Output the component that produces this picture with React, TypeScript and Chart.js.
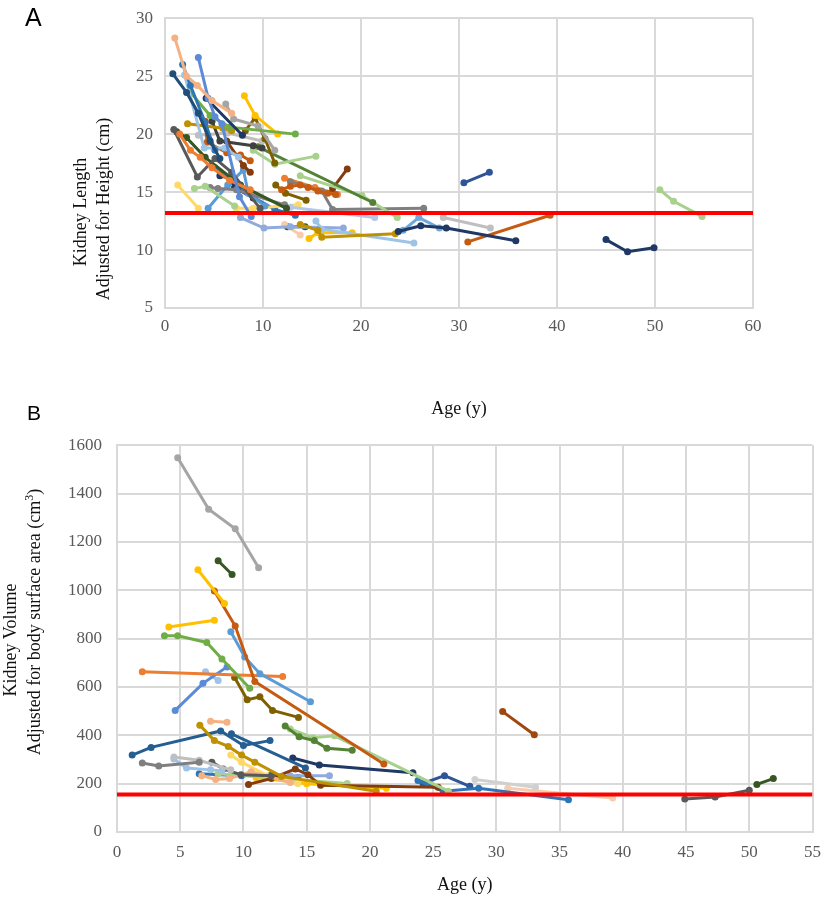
import React, { useEffect, useRef } from 'react';
import { Chart, registerables } from 'chart.js';
Chart.register(...registerables);

// ---------- Panel A: kidney length adjusted for height ----------
const lengthAges: number[][] = [
  [1.0, 2.2, 3.3, 4.8, 6.8],
  [3.4, 4.4, 5.1, 5.8, 7.6, 8.8],
  [0.8, 2.2, 3.4, 4.6, 5.6],
  [1.8, 2.6, 4.1, 5.1],
  [2.0, 4.0, 6.1, 7.5],
  [4.2, 7.9],
  [2.6, 4.6, 6.6, 13.3],
  [8.1, 9.2, 11.5],
  [6.2, 7.0, 9.5, 11.2],
  [2.3, 5.9, 6.8],
  [8.2, 9.2, 10.2, 11.2],
  [1.5, 2.6, 3.6, 4.8, 6.6, 8.7],
  [4.1, 4.3, 6.3, 7.7, 8.7],
  [0.9, 3.3, 5.1, 6.8, 9.7],
  [1.2, 2.2, 4.1, 7.7, 12.4],
  [4.8, 5.6, 9.0, 9.9],
  [3.4, 6.4, 9.9],
  [6.3, 8.0, 8.7],
  [9.0, 11.2, 15.4],
  [9.5, 21.2],
  [13.8, 20.1, 23.7],
  [17.1, 18.6],
  [11.9, 12.8, 13.8, 14.6, 15.6, 16.6, 17.4],
  [12.8, 16.0, 17.1, 26.4],
  [12.2, 15.3, 17.6],
  [28.4, 33.2],
  [23.8, 26.1, 28.7, 35.8],
  [24.3, 25.9, 28.0],
  [30.9, 39.3],
  [30.5, 33.1],
  [45.0, 47.2, 49.9],
  [50.5, 51.9, 54.8],
  [13.8, 15.6, 16.0, 23.5],
  [15.4, 16.0, 25.4],
  [14.7, 15.6, 19.1],
  [7.7, 10.1, 12.8, 18.2],
  [12.8, 21.4],
  [11.3, 12.3, 14.4],
  [1.3, 3.4],
  [3.0, 4.1, 7.1],
  [4.6, 5.4, 7.3, 12.2],
  [4.4, 6.4, 8.0, 8.5, 10.2],
  [5.6, 6.6, 7.1, 9.0],
  [7.3, 9.0, 13.6],
  [12.2, 13.8],
  [12.5, 14.3],
  [5.1, 7.7, 11.2, 13.3],
];
const lengthValues: number[][] = [
  [28.3, 25.0, 24.2, 22.9, 21.8],
  [26.6, 23.1, 21.5, 20.9, 14.6, 12.9],
  [25.2, 23.6, 21.8, 19.4, 17.9],
  [26.0, 24.2, 21.0, 18.6],
  [25.1, 18.8, 18.8, 18.0],
  [23.1, 19.9],
  [23.6, 21.6, 20.6, 20.0],
  [23.3, 21.6, 20.0],
  [22.6, 21.3, 20.7, 18.6],
  [20.9, 20.5, 20.3],
  [20.3, 21.4, 19.6, 17.5],
  [20.0, 18.6, 18.0, 17.1, 16.0, 15.2],
  [21.1, 19.3, 18.4, 18.2, 17.7],
  [20.4, 16.3, 17.9, 16.7, 13.6],
  [20.2, 19.7, 18.0, 15.6, 13.6],
  [21.1, 19.4, 19.0, 18.8],
  [19.9, 20.1, 19.4],
  [19.4, 17.3, 16.7],
  [18.6, 17.4, 18.1],
  [18.9, 14.1],
  [16.4, 14.7, 12.8],
  [15.3, 17.0],
  [15.2, 15.5, 15.6, 15.4, 15.1, 14.9, 14.8],
  [15.9, 15.1, 13.5, 13.6],
  [16.2, 15.4, 14.8],
  [12.8, 11.9],
  [11.6, 12.1, 11.9, 10.8],
  [11.7, 12.8, 11.9],
  [10.7, 13.0],
  [15.8, 16.7],
  [10.9, 9.85, 10.2],
  [15.2, 14.2, 12.9],
  [12.2, 11.7, 11.1, 11.4],
  [12.5, 11.8, 10.6],
  [11.0, 11.5, 11.5],
  [12.8, 11.9, 12.0, 11.9],
  [13.7, 12.8],
  [15.6, 14.9, 14.3],
  [15.6, 13.6],
  [15.3, 15.5, 13.8],
  [15.4, 15.3, 15.2, 13.9],
  [13.6, 15.6, 16.9, 14.9, 13.8],
  [16.4, 16.2, 15.4, 14.5],
  [13.6, 13.6, 13.9],
  [12.2, 11.3],
  [12.0, 12.0],
  [17.1, 15.2, 13.5, 13.0],
];
const lengthColors: string[] = [
  '#F4B183', '#5B8AD6', '#1F4E79', '#2E75B6', '#9DC3E6', '#1F3864', '#70AD47', '#FFC000',
  '#A5A5A5', '#BF9000', '#7F6000', '#ED7D31', '#C55A11', '#595959', '#375623', '#404040',
  '#BFBFBF', '#843C0C', '#A9D18E', '#548235', '#A9D18E', '#843C0C', '#C55A11', '#7F7F7F',
  '#ED7D31', '#BFBFBF', '#1F3864', '#6FA8DC', '#C55A11', '#2F5597', '#1F3864', '#A9D18E',
  '#BF9000', '#9DC3E6', '#FFC000', '#8FAADC', '#B4C7E7', '#7F6000', '#FFD966', '#A9D18E',
  '#7F7F7F', '#5B9BD5', '#203864', '#FFD966', '#F8CBAD', '#375623', '#2E75B6',
];
const lengthReference = 13.2;

// ---------- Panel B: kidney volume adjusted for BSA ----------
const volumeAges: number[][] = [
  [4.8, 7.25, 9.35, 11.2],
  [8.0, 9.1],
  [6.4, 8.5],
  [7.7, 9.35, 10.9, 21.1],
  [4.1, 7.7],
  [3.75, 4.8, 7.1, 8.3, 10.5],
  [9.0, 10.1, 11.3, 15.3],
  [2.0, 13.1],
  [4.6, 6.8, 8.7],
  [7.0, 8.0],
  [9.3, 10.3, 11.3, 12.3, 14.35],
  [7.4, 8.7],
  [6.55, 7.7, 8.8, 9.85, 10.9, 13.0, 20.5],
  [1.2, 2.7, 8.2, 10.0, 12.1],
  [9.05, 14.9],
  [13.3, 14.4, 15.6, 16.6, 18.6],
  [13.7, 15.5, 17.2, 26.2],
  [13.9, 16.0, 23.4],
  [2.0, 3.3, 6.5],
  [4.5, 6.5, 9.0],
  [4.5, 5.5, 7.4, 8.3],
  [7.5, 8.4, 9.8, 12.2],
  [6.7, 7.8, 8.9, 10.6, 13.7],
  [10.4, 12.2, 14.1, 15.1, 16.1, 25.4],
  [13.7, 16.8],
  [9.0, 9.85, 11.9, 14.3],
  [8.0, 18.2],
  [11.0, 15.0, 21.3],
  [30.5, 33.0],
  [23.8, 25.8, 28.6, 35.7],
  [24.2, 25.9, 27.9],
  [28.3, 33.1],
  [30.9, 39.2],
  [44.9, 47.3, 50.0],
  [50.6, 51.9],
  [6.5, 9.85, 12.2, 14.3],
];
const volumeValues: number[][] = [
  [1548, 1335, 1254, 1093],
  [1122, 1065],
  [1085, 945],
  [997, 852, 623, 281],
  [848, 876],
  [812, 812, 784, 716, 595],
  [828, 724, 655, 539],
  [663, 643],
  [503, 615, 683],
  [663, 627],
  [639, 547, 559, 503, 474],
  [458, 454],
  [442, 378, 354, 318, 289, 230, 169],
  [318, 350, 418, 358, 378],
  [406, 265],
  [438, 394, 378, 346, 338],
  [426, 390, 398, 169],
  [306, 277, 245],
  [285, 273, 289],
  [310, 297, 257],
  [302, 265, 257, 253],
  [289, 261, 237, 233],
  [233, 217, 221, 249, 205],
  [197, 221, 261, 237, 193, 185],
  [233, 233],
  [318, 289, 233, 201],
  [241, 201],
  [225, 200, 181],
  [498, 402],
  [213, 169, 181, 133],
  [201, 233, 189],
  [217, 185],
  [181, 141],
  [137, 145, 173],
  [197, 221],
  [241, 233, 237, 225],
];
const volumeColors: string[] = [
  '#A5A5A5', '#375623', '#FFC000', '#C55A11', '#FFC000', '#70AD47', '#5B9BD5', '#ED7D31',
  '#5B8AD6', '#9DC3E6', '#7F6000', '#F4B183', '#BF9000', '#255E91', '#255E91', '#548235',
  '#A9D18E', '#1F3864', '#7F7F7F', '#BFBFBF', '#9DC3E6', '#595959', '#F4B183', '#843C0C',
  '#8FAADC', '#FFD966', '#A9D18E', '#FFC000', '#9E480E', '#2E75B6', '#2F5597', '#D0D0D0',
  '#F8CBAD', '#595959', '#375623', '#2E75B6',
];
const volumeReference = 155;

const SERIF = "'Liberation Serif', 'Times New Roman', serif";
const GRID = '#D9D9D9';

function buildDatasets(ages: number[][], values: number[][], colors: string[], ref: number, xMax: number) {
  const sets: any[] = [
    {
      data: [{ x: 0, y: ref }, { x: xMax, y: ref }],
      borderColor: '#FF0000',
      backgroundColor: '#FF0000',
      borderWidth: 4,
      pointRadius: 0,
      showLine: true,
    },
  ];
  ages.forEach((row, i) => {
    sets.push({
      data: row.map((x, j) => ({ x, y: values[i][j] })),
      borderColor: colors[i],
      backgroundColor: colors[i],
      pointBackgroundColor: colors[i],
      pointBorderColor: colors[i],
      borderWidth: 3,
      pointRadius: 3.5,
      pointBorderWidth: 0,
      showLine: true,
    });
  });
  return sets;
}

function makeConfig(opts: {
  ages: number[][]; values: number[][]; colors: string[]; ref: number;
  xMax: number; xStep: number; yMin: number; yMax: number; yStep: number;
  padding: any; yWidth: number; xHeight: number; xPad: number; yPad: number; titlePadBottom: number;
}): any {
  const plain = (v: any) => String(v);
  return {
    type: 'scatter',
    data: { datasets: buildDatasets(opts.ages, opts.values, opts.colors, opts.ref, opts.xMax) },
    options: {
      responsive: false,
      animation: false,
      events: [],
      layout: { padding: opts.padding },
      plugins: { legend: { display: false }, tooltip: { enabled: false } },
      scales: {
        x: {
          type: 'linear',
          min: 0,
          max: opts.xMax,
          ticks: { stepSize: opts.xStep, padding: opts.xPad, color: '#595959', font: { family: SERIF, size: 17 }, callback: plain },
          grid: { color: GRID, lineWidth: 2, drawTicks: false },
          border: { color: GRID, width: 2 },
          title: {
            display: true,
            text: 'Age (y)',
            color: '#111',
            font: { family: SERIF, size: 18 },
            padding: { top: 0, bottom: opts.titlePadBottom },
          },
          afterFit: (s: any) => { s.height = opts.xHeight; },
        },
        y: {
          type: 'linear',
          min: opts.yMin,
          max: opts.yMax,
          ticks: { stepSize: opts.yStep, padding: opts.yPad, color: '#595959', font: { family: SERIF, size: 17 }, callback: plain },
          grid: { color: GRID, lineWidth: 2, drawTicks: false },
          border: { color: GRID, width: 2 },
          afterFit: (s: any) => { s.width = opts.yWidth; },
        },
      },
    },
  };
}

function ChartCanvas({ config, width, height, top }: { config: any; width: number; height: number; top: number }) {
  const ref = useRef<HTMLCanvasElement | null>(null);
  useEffect(() => {
    if (!ref.current) return;
    const chart = new Chart(ref.current, config);
    return () => chart.destroy();
  }, []);
  return (
    <canvas
      ref={ref}
      width={width}
      height={height}
      style={{ position: 'absolute', left: 0, top, width, height }}
    />
  );
}

const rotated = (text: React.ReactNode, cx: number, cy: number) => (
  <div
    style={{
      position: 'absolute',
      left: cx,
      top: cy,
      transform: 'translate(-50%, -50%) rotate(-90deg)',
      whiteSpace: 'nowrap',
      fontFamily: SERIF,
      fontSize: 18,
      lineHeight: 1,
      color: '#111',
    }}
  >
    {text}
  </div>
);

export default function App() {
  const configA = makeConfig({
    ages: lengthAges, values: lengthValues, colors: lengthColors, ref: lengthReference,
    xMax: 60, xStep: 10, yMin: 5, yMax: 30, yStep: 5,
    padding: { top: 12, right: 78, left: 0, bottom: 0 },
    yWidth: 165, xHeight: 112, xPad: 8, yPad: 12, titlePadBottom: 0,
  });
  const configB = makeConfig({
    ages: volumeAges, values: volumeValues, colors: volumeColors, ref: volumeReference,
    xMax: 55, xStep: 5, yMin: 0, yMax: 1600, yStep: 200,
    padding: { top: 14, right: 9, left: 0, bottom: 0 },
    yWidth: 117, xHeight: 66, xPad: 10, yPad: 15, titlePadBottom: 2,
  });
  return (
    <div style={{ position: 'absolute', left: 0, top: 0, width: 831, height: 898, background: '#fff', overflow: 'hidden' }}>
      <ChartCanvas config={configA} width={831} height={424} top={-4} />
      <ChartCanvas config={configB} width={831} height={478} top={420} />
      <div style={{ position: 'absolute', left: 25, top: 5, fontFamily: "'Liberation Sans', Arial, sans-serif", fontSize: 25, lineHeight: 1 }}>A</div>
      <div style={{ position: 'absolute', left: 27, top: 402, fontFamily: "'Liberation Sans', Arial, sans-serif", fontSize: 21, lineHeight: 1 }}>B</div>
      {rotated('Kidney Length', 80, 212)}
      {rotated('Adjusted for Height (cm)', 103, 209)}
      {rotated('Kidney Volume', 10, 640)}
      {rotated(<span>Adjusted for body surface area (cm<sup style={{ fontSize: 12 }}>3</sup>)</span>, 33, 622)}
    </div>
  );
}
